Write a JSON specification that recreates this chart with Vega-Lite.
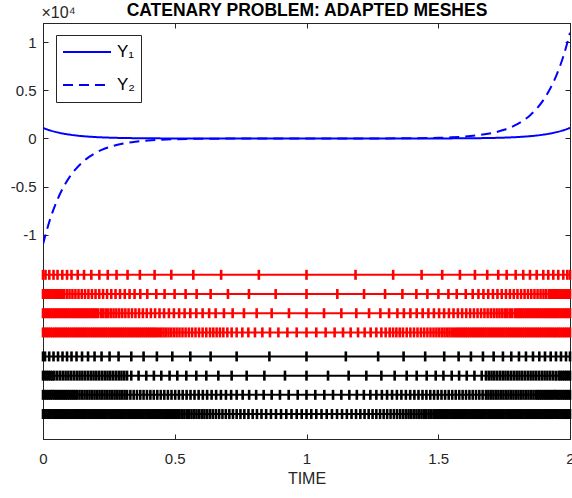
{
"$schema": "https://vega.github.io/schema/vega-lite/v6.json",
"width": 527,
"height": 416,
"autosize": {"type": "none"},
"padding": {"left": 43, "top": 23, "right": 2, "bottom": 59},
"background": "white",
"config": {
  "view": {"stroke": "#262626", "strokeWidth": 1},
  "font": "Liberation Sans",
  "axis": {"grid": false, "domainColor": "#262626", "tickColor": "#262626", "labelColor": "#262626", "titleColor": "#262626", "labelFont": "Liberation Sans", "titleFont": "Liberation Sans", "labelFontSize": 15, "tickSize": -5, "domainWidth": 1, "tickWidth": 1}
},
"datasets": {
"levels": [{"m":1,"lev":-14200,"g":"r"},{"m":2,"lev":-16200,"g":"r"},{"m":3,"lev":-18200,"g":"r"},{"m":4,"lev":-20200,"g":"r"},{"m":5,"lev":-22700,"g":"k"},{"m":6,"lev":-24700,"g":"k"},{"m":7,"lev":-26700,"g":"k"},{"m":8,"lev":-28700,"g":"k"}],
"mesh": [
{"m":1,"t":0},{"m":1,"t":0.0095},{"m":1,"t":0.0239},{"m":1,"t":0.0399},{"m":1,"t":0.0551},{"m":1,"t":0.0733},{"m":1,"t":0.0912},{"m":1,"t":0.1082},{"m":1,"t":0.1318},{"m":1,"t":0.1557},{"m":1,"t":0.1834},{"m":1,"t":0.2138},{"m":1,"t":0.2457},{"m":1,"t":0.2791},{"m":1,"t":0.3209},{"m":1,"t":0.3676},{"m":1,"t":0.4235},{"m":1,"t":0.4869},{"m":1,"t":0.5705},{"m":1,"t":0.676},{"m":1,"t":0.8192},{"m":1,"t":1},{"m":1,"t":1.1861},{"m":1,"t":1.3289},{"m":1,"t":1.4368},{"m":1,"t":1.515},{"m":1,"t":1.5822},{"m":1,"t":1.6392},{"m":1,"t":1.6859},{"m":1,"t":1.7277},{"m":1,"t":1.7596},{"m":1,"t":1.7938},{"m":1,"t":1.8226},{"m":1,"t":1.8481},{"m":1,"t":1.8735},{"m":1,"t":1.8986},{"m":1,"t":1.9176},{"m":1,"t":1.9366},{"m":1,"t":1.9556},{"m":1,"t":1.9746},{"m":1,"t":1.9897},{"m":1,"t":2},
{"m":2,"t":0},{"m":2,"t":0.0072},{"m":2,"t":0.0144},{"m":2,"t":0.0216},{"m":2,"t":0.0288},{"m":2,"t":0.036},{"m":2,"t":0.0432},{"m":2,"t":0.0504},{"m":2,"t":0.0576},{"m":2,"t":0.0648},{"m":2,"t":0.072},{"m":2,"t":0.0792},{"m":2,"t":0.09},{"m":2,"t":0.1006},{"m":2,"t":0.1117},{"m":2,"t":0.1231},{"m":2,"t":0.1348},{"m":2,"t":0.147},{"m":2,"t":0.1595},{"m":2,"t":0.1724},{"m":2,"t":0.1857},{"m":2,"t":0.1994},{"m":2,"t":0.2134},{"m":2,"t":0.2279},{"m":2,"t":0.2431},{"m":2,"t":0.259},{"m":2,"t":0.2753},{"m":2,"t":0.2924},{"m":2,"t":0.3103},{"m":2,"t":0.3285},{"m":2,"t":0.3475},{"m":2,"t":0.3692},{"m":2,"t":0.3957},{"m":2,"t":0.4299},{"m":2,"t":0.4614},{"m":2,"t":0.4994},{"m":2,"t":0.5412},{"m":2,"t":0.583},{"m":2,"t":0.6361},{"m":2,"t":0.7019},{"m":2,"t":0.7816},{"m":2,"t":0.883},{"m":2,"t":1},{"m":2,"t":1.117},{"m":2,"t":1.2184},{"m":2,"t":1.2981},{"m":2,"t":1.3639},{"m":2,"t":1.417},{"m":2,"t":1.4588},{"m":2,"t":1.5006},{"m":2,"t":1.5386},{"m":2,"t":1.5701},{"m":2,"t":1.6043},{"m":2,"t":1.6308},{"m":2,"t":1.6525},{"m":2,"t":1.6715},{"m":2,"t":1.6897},{"m":2,"t":1.7076},{"m":2,"t":1.7247},{"m":2,"t":1.741},{"m":2,"t":1.7569},{"m":2,"t":1.7721},{"m":2,"t":1.7866},{"m":2,"t":1.8006},{"m":2,"t":1.8143},{"m":2,"t":1.8276},{"m":2,"t":1.8405},{"m":2,"t":1.853},{"m":2,"t":1.8652},{"m":2,"t":1.8769},{"m":2,"t":1.8883},{"m":2,"t":1.8994},{"m":2,"t":1.91},{"m":2,"t":1.9208},{"m":2,"t":1.928},{"m":2,"t":1.9352},{"m":2,"t":1.9424},{"m":2,"t":1.9496},{"m":2,"t":1.9568},{"m":2,"t":1.964},{"m":2,"t":1.9712},{"m":2,"t":1.9784},{"m":2,"t":1.9856},{"m":2,"t":1.9928},{"m":2,"t":2},
{"m":3,"t":0},{"m":3,"t":0.0072},{"m":3,"t":0.0144},{"m":3,"t":0.0216},{"m":3,"t":0.0288},{"m":3,"t":0.036},{"m":3,"t":0.0432},{"m":3,"t":0.0504},{"m":3,"t":0.0576},{"m":3,"t":0.0648},{"m":3,"t":0.072},{"m":3,"t":0.0792},{"m":3,"t":0.0864},{"m":3,"t":0.0936},{"m":3,"t":0.1008},{"m":3,"t":0.108},{"m":3,"t":0.1152},{"m":3,"t":0.1224},{"m":3,"t":0.1296},{"m":3,"t":0.1368},{"m":3,"t":0.144},{"m":3,"t":0.1512},{"m":3,"t":0.1584},{"m":3,"t":0.1656},{"m":3,"t":0.1728},{"m":3,"t":0.18},{"m":3,"t":0.1872},{"m":3,"t":0.1944},{"m":3,"t":0.2016},{"m":3,"t":0.2088},{"m":3,"t":0.2195},{"m":3,"t":0.2286},{"m":3,"t":0.2381},{"m":3,"t":0.2476},{"m":3,"t":0.2575},{"m":3,"t":0.2678},{"m":3,"t":0.2784},{"m":3,"t":0.2894},{"m":3,"t":0.3008},{"m":3,"t":0.3126},{"m":3,"t":0.3247},{"m":3,"t":0.3376},{"m":3,"t":0.3509},{"m":3,"t":0.3646},{"m":3,"t":0.379},{"m":3,"t":0.3938},{"m":3,"t":0.4094},{"m":3,"t":0.4254},{"m":3,"t":0.4421},{"m":3,"t":0.4595},{"m":3,"t":0.4778},{"m":3,"t":0.4968},{"m":3,"t":0.5165},{"m":3,"t":0.5374},{"m":3,"t":0.5591},{"m":3,"t":0.5818},{"m":3,"t":0.6058},{"m":3,"t":0.6305},{"m":3,"t":0.6551},{"m":3,"t":0.6867},{"m":3,"t":0.7197},{"m":3,"t":0.7626},{"m":3,"t":0.8109},{"m":3,"t":0.8678},{"m":3,"t":0.9335},{"m":3,"t":1},{"m":3,"t":1.0665},{"m":3,"t":1.1322},{"m":3,"t":1.1891},{"m":3,"t":1.2374},{"m":3,"t":1.2803},{"m":3,"t":1.3133},{"m":3,"t":1.3449},{"m":3,"t":1.3695},{"m":3,"t":1.3942},{"m":3,"t":1.4182},{"m":3,"t":1.4409},{"m":3,"t":1.4626},{"m":3,"t":1.4835},{"m":3,"t":1.5032},{"m":3,"t":1.5222},{"m":3,"t":1.5405},{"m":3,"t":1.5579},{"m":3,"t":1.5746},{"m":3,"t":1.5906},{"m":3,"t":1.6062},{"m":3,"t":1.621},{"m":3,"t":1.6354},{"m":3,"t":1.6491},{"m":3,"t":1.6624},{"m":3,"t":1.6753},{"m":3,"t":1.6874},{"m":3,"t":1.6992},{"m":3,"t":1.7106},{"m":3,"t":1.7216},{"m":3,"t":1.7322},{"m":3,"t":1.7425},{"m":3,"t":1.7524},{"m":3,"t":1.7619},{"m":3,"t":1.7714},{"m":3,"t":1.7805},{"m":3,"t":1.7912},{"m":3,"t":1.7984},{"m":3,"t":1.8056},{"m":3,"t":1.8128},{"m":3,"t":1.82},{"m":3,"t":1.8272},{"m":3,"t":1.8344},{"m":3,"t":1.8416},{"m":3,"t":1.8488},{"m":3,"t":1.856},{"m":3,"t":1.8632},{"m":3,"t":1.8704},{"m":3,"t":1.8776},{"m":3,"t":1.8848},{"m":3,"t":1.892},{"m":3,"t":1.8992},{"m":3,"t":1.9064},{"m":3,"t":1.9136},{"m":3,"t":1.9208},{"m":3,"t":1.928},{"m":3,"t":1.9352},{"m":3,"t":1.9424},{"m":3,"t":1.9496},{"m":3,"t":1.9568},{"m":3,"t":1.964},{"m":3,"t":1.9712},{"m":3,"t":1.9784},{"m":3,"t":1.9856},{"m":3,"t":1.9928},{"m":3,"t":2},
{"m":4,"t":0},{"m":4,"t":0.0072},{"m":4,"t":0.0144},{"m":4,"t":0.0216},{"m":4,"t":0.0288},{"m":4,"t":0.036},{"m":4,"t":0.0432},{"m":4,"t":0.0504},{"m":4,"t":0.0576},{"m":4,"t":0.0648},{"m":4,"t":0.072},{"m":4,"t":0.0792},{"m":4,"t":0.0864},{"m":4,"t":0.0936},{"m":4,"t":0.1008},{"m":4,"t":0.108},{"m":4,"t":0.1152},{"m":4,"t":0.1224},{"m":4,"t":0.1296},{"m":4,"t":0.1368},{"m":4,"t":0.144},{"m":4,"t":0.1512},{"m":4,"t":0.1584},{"m":4,"t":0.1656},{"m":4,"t":0.1728},{"m":4,"t":0.18},{"m":4,"t":0.1872},{"m":4,"t":0.1944},{"m":4,"t":0.2016},{"m":4,"t":0.2088},{"m":4,"t":0.216},{"m":4,"t":0.2232},{"m":4,"t":0.2304},{"m":4,"t":0.2376},{"m":4,"t":0.2448},{"m":4,"t":0.252},{"m":4,"t":0.2592},{"m":4,"t":0.2664},{"m":4,"t":0.2736},{"m":4,"t":0.2808},{"m":4,"t":0.288},{"m":4,"t":0.2952},{"m":4,"t":0.3024},{"m":4,"t":0.3096},{"m":4,"t":0.3168},{"m":4,"t":0.324},{"m":4,"t":0.3312},{"m":4,"t":0.3384},{"m":4,"t":0.3456},{"m":4,"t":0.3528},{"m":4,"t":0.36},{"m":4,"t":0.3672},{"m":4,"t":0.3744},{"m":4,"t":0.3816},{"m":4,"t":0.3888},{"m":4,"t":0.396},{"m":4,"t":0.4032},{"m":4,"t":0.4104},{"m":4,"t":0.4176},{"m":4,"t":0.4248},{"m":4,"t":0.432},{"m":4,"t":0.4406},{"m":4,"t":0.4489},{"m":4,"t":0.4576},{"m":4,"t":0.4668},{"m":4,"t":0.4763},{"m":4,"t":0.4861},{"m":4,"t":0.4964},{"m":4,"t":0.507},{"m":4,"t":0.518},{"m":4,"t":0.5294},{"m":4,"t":0.5412},{"m":4,"t":0.5534},{"m":4,"t":0.5659},{"m":4,"t":0.5788},{"m":4,"t":0.5921},{"m":4,"t":0.6058},{"m":4,"t":0.6198},{"m":4,"t":0.6339},{"m":4,"t":0.6464},{"m":4,"t":0.6589},{"m":4,"t":0.6715},{"m":4,"t":0.6844},{"m":4,"t":0.6996},{"m":4,"t":0.7159},{"m":4,"t":0.7349},{"m":4,"t":0.7565},{"m":4,"t":0.7793},{"m":4,"t":0.8044},{"m":4,"t":0.8325},{"m":4,"t":0.8614},{"m":4,"t":0.8933},{"m":4,"t":0.9274},{"m":4,"t":0.9628},{"m":4,"t":1},{"m":4,"t":1.0372},{"m":4,"t":1.0726},{"m":4,"t":1.1067},{"m":4,"t":1.1386},{"m":4,"t":1.1675},{"m":4,"t":1.1956},{"m":4,"t":1.2207},{"m":4,"t":1.2435},{"m":4,"t":1.2651},{"m":4,"t":1.2841},{"m":4,"t":1.3004},{"m":4,"t":1.3156},{"m":4,"t":1.3285},{"m":4,"t":1.3411},{"m":4,"t":1.3536},{"m":4,"t":1.3661},{"m":4,"t":1.3802},{"m":4,"t":1.3942},{"m":4,"t":1.4079},{"m":4,"t":1.4212},{"m":4,"t":1.4341},{"m":4,"t":1.4466},{"m":4,"t":1.4588},{"m":4,"t":1.4706},{"m":4,"t":1.482},{"m":4,"t":1.493},{"m":4,"t":1.5036},{"m":4,"t":1.5139},{"m":4,"t":1.5237},{"m":4,"t":1.5332},{"m":4,"t":1.5424},{"m":4,"t":1.5511},{"m":4,"t":1.5594},{"m":4,"t":1.568},{"m":4,"t":1.5752},{"m":4,"t":1.5824},{"m":4,"t":1.5896},{"m":4,"t":1.5968},{"m":4,"t":1.604},{"m":4,"t":1.6112},{"m":4,"t":1.6184},{"m":4,"t":1.6256},{"m":4,"t":1.6328},{"m":4,"t":1.64},{"m":4,"t":1.6472},{"m":4,"t":1.6544},{"m":4,"t":1.6616},{"m":4,"t":1.6688},{"m":4,"t":1.676},{"m":4,"t":1.6832},{"m":4,"t":1.6904},{"m":4,"t":1.6976},{"m":4,"t":1.7048},{"m":4,"t":1.712},{"m":4,"t":1.7192},{"m":4,"t":1.7264},{"m":4,"t":1.7336},{"m":4,"t":1.7408},{"m":4,"t":1.748},{"m":4,"t":1.7552},{"m":4,"t":1.7624},{"m":4,"t":1.7696},{"m":4,"t":1.7768},{"m":4,"t":1.784},{"m":4,"t":1.7912},{"m":4,"t":1.7984},{"m":4,"t":1.8056},{"m":4,"t":1.8128},{"m":4,"t":1.82},{"m":4,"t":1.8272},{"m":4,"t":1.8344},{"m":4,"t":1.8416},{"m":4,"t":1.8488},{"m":4,"t":1.856},{"m":4,"t":1.8632},{"m":4,"t":1.8704},{"m":4,"t":1.8776},{"m":4,"t":1.8848},{"m":4,"t":1.892},{"m":4,"t":1.8992},{"m":4,"t":1.9064},{"m":4,"t":1.9136},{"m":4,"t":1.9208},{"m":4,"t":1.928},{"m":4,"t":1.9352},{"m":4,"t":1.9424},{"m":4,"t":1.9496},{"m":4,"t":1.9568},{"m":4,"t":1.964},{"m":4,"t":1.9712},{"m":4,"t":1.9784},{"m":4,"t":1.9856},{"m":4,"t":1.9928},{"m":4,"t":2},
{"m":5,"t":0},{"m":5,"t":0.0076},{"m":5,"t":0.0235},{"m":5,"t":0.0399},{"m":5,"t":0.057},{"m":5,"t":0.0741},{"m":5,"t":0.0912},{"m":5,"t":0.1082},{"m":5,"t":0.1272},{"m":5,"t":0.1481},{"m":5,"t":0.1709},{"m":5,"t":0.1956},{"m":5,"t":0.2222},{"m":5,"t":0.2526},{"m":5,"t":0.2867},{"m":5,"t":0.335},{"m":5,"t":0.3817},{"m":5,"t":0.4322},{"m":5,"t":0.4907},{"m":5,"t":0.5591},{"m":5,"t":0.6362},{"m":5,"t":0.7349},{"m":5,"t":0.8591},{"m":5,"t":1},{"m":5,"t":1.1493},{"m":5,"t":1.2719},{"m":5,"t":1.3684},{"m":5,"t":1.4504},{"m":5,"t":1.5226},{"m":5,"t":1.5773},{"m":5,"t":1.624},{"m":5,"t":1.6696},{"m":5,"t":1.7102},{"m":5,"t":1.7455},{"m":5,"t":1.7771},{"m":5,"t":1.8063},{"m":5,"t":1.8329},{"m":5,"t":1.8595},{"m":5,"t":1.8834},{"m":5,"t":1.9051},{"m":5,"t":1.9267},{"m":5,"t":1.9468},{"m":5,"t":1.9658},{"m":5,"t":1.9848},{"m":5,"t":2},
{"m":6,"t":0},{"m":6,"t":0.0072},{"m":6,"t":0.0144},{"m":6,"t":0.0216},{"m":6,"t":0.0288},{"m":6,"t":0.036},{"m":6,"t":0.0432},{"m":6,"t":0.054},{"m":6,"t":0.0646},{"m":6,"t":0.0752},{"m":6,"t":0.0858},{"m":6,"t":0.0964},{"m":6,"t":0.107},{"m":6,"t":0.1176},{"m":6,"t":0.1282},{"m":6,"t":0.1388},{"m":6,"t":0.1494},{"m":6,"t":0.16},{"m":6,"t":0.1706},{"m":6,"t":0.1812},{"m":6,"t":0.1918},{"m":6,"t":0.2024},{"m":6,"t":0.213},{"m":6,"t":0.2236},{"m":6,"t":0.2342},{"m":6,"t":0.2448},{"m":6,"t":0.2554},{"m":6,"t":0.266},{"m":6,"t":0.2766},{"m":6,"t":0.2872},{"m":6,"t":0.2978},{"m":6,"t":0.3084},{"m":6,"t":0.319},{"m":6,"t":0.335},{"m":6,"t":0.3627},{"m":6,"t":0.3919},{"m":6,"t":0.4208},{"m":6,"t":0.4489},{"m":6,"t":0.4804},{"m":6,"t":0.5097},{"m":6,"t":0.5439},{"m":6,"t":0.5818},{"m":6,"t":0.6198},{"m":6,"t":0.6654},{"m":6,"t":0.7159},{"m":6,"t":0.7729},{"m":6,"t":0.8401},{"m":6,"t":0.9183},{"m":6,"t":1},{"m":6,"t":1.0817},{"m":6,"t":1.1599},{"m":6,"t":1.2271},{"m":6,"t":1.2841},{"m":6,"t":1.3346},{"m":6,"t":1.3802},{"m":6,"t":1.4182},{"m":6,"t":1.4561},{"m":6,"t":1.4903},{"m":6,"t":1.5196},{"m":6,"t":1.5511},{"m":6,"t":1.5792},{"m":6,"t":1.6081},{"m":6,"t":1.6373},{"m":6,"t":1.665},{"m":6,"t":1.681},{"m":6,"t":1.6916},{"m":6,"t":1.7022},{"m":6,"t":1.7128},{"m":6,"t":1.7234},{"m":6,"t":1.734},{"m":6,"t":1.7446},{"m":6,"t":1.7552},{"m":6,"t":1.7658},{"m":6,"t":1.7764},{"m":6,"t":1.787},{"m":6,"t":1.7976},{"m":6,"t":1.8082},{"m":6,"t":1.8188},{"m":6,"t":1.8294},{"m":6,"t":1.84},{"m":6,"t":1.8506},{"m":6,"t":1.8612},{"m":6,"t":1.8718},{"m":6,"t":1.8824},{"m":6,"t":1.893},{"m":6,"t":1.9036},{"m":6,"t":1.9142},{"m":6,"t":1.9248},{"m":6,"t":1.9354},{"m":6,"t":1.946},{"m":6,"t":1.9568},{"m":6,"t":1.964},{"m":6,"t":1.9712},{"m":6,"t":1.9784},{"m":6,"t":1.9856},{"m":6,"t":1.9928},{"m":6,"t":2},
{"m":7,"t":0},{"m":7,"t":0.0072},{"m":7,"t":0.0144},{"m":7,"t":0.0216},{"m":7,"t":0.0288},{"m":7,"t":0.036},{"m":7,"t":0.0432},{"m":7,"t":0.0504},{"m":7,"t":0.0576},{"m":7,"t":0.0648},{"m":7,"t":0.072},{"m":7,"t":0.0792},{"m":7,"t":0.0864},{"m":7,"t":0.0936},{"m":7,"t":0.1008},{"m":7,"t":0.108},{"m":7,"t":0.1152},{"m":7,"t":0.1224},{"m":7,"t":0.1296},{"m":7,"t":0.1386},{"m":7,"t":0.1481},{"m":7,"t":0.1576},{"m":7,"t":0.1671},{"m":7,"t":0.1766},{"m":7,"t":0.1861},{"m":7,"t":0.1956},{"m":7,"t":0.2051},{"m":7,"t":0.2146},{"m":7,"t":0.2241},{"m":7,"t":0.2336},{"m":7,"t":0.2431},{"m":7,"t":0.2526},{"m":7,"t":0.2621},{"m":7,"t":0.2716},{"m":7,"t":0.2811},{"m":7,"t":0.2906},{"m":7,"t":0.3001},{"m":7,"t":0.3096},{"m":7,"t":0.3191},{"m":7,"t":0.3316},{"m":7,"t":0.3441},{"m":7,"t":0.3566},{"m":7,"t":0.3692},{"m":7,"t":0.3817},{"m":7,"t":0.3946},{"m":7,"t":0.4075},{"m":7,"t":0.4204},{"m":7,"t":0.4337},{"m":7,"t":0.447},{"m":7,"t":0.4603},{"m":7,"t":0.474},{"m":7,"t":0.4877},{"m":7,"t":0.5017},{"m":7,"t":0.5158},{"m":7,"t":0.5302},{"m":7,"t":0.545},{"m":7,"t":0.5598},{"m":7,"t":0.575},{"m":7,"t":0.5906},{"m":7,"t":0.6065},{"m":7,"t":0.6229},{"m":7,"t":0.6399},{"m":7,"t":0.657},{"m":7,"t":0.6753},{"m":7,"t":0.6943},{"m":7,"t":0.714},{"m":7,"t":0.7349},{"m":7,"t":0.7577},{"m":7,"t":0.7824},{"m":7,"t":0.809},{"m":7,"t":0.8374},{"m":7,"t":0.8678},{"m":7,"t":0.8993},{"m":7,"t":0.9324},{"m":7,"t":0.9666},{"m":7,"t":1},{"m":7,"t":1.0334},{"m":7,"t":1.0676},{"m":7,"t":1.1007},{"m":7,"t":1.1322},{"m":7,"t":1.1626},{"m":7,"t":1.191},{"m":7,"t":1.2176},{"m":7,"t":1.2423},{"m":7,"t":1.2651},{"m":7,"t":1.286},{"m":7,"t":1.3057},{"m":7,"t":1.3247},{"m":7,"t":1.343},{"m":7,"t":1.3601},{"m":7,"t":1.3771},{"m":7,"t":1.3935},{"m":7,"t":1.4094},{"m":7,"t":1.425},{"m":7,"t":1.4402},{"m":7,"t":1.455},{"m":7,"t":1.4698},{"m":7,"t":1.4842},{"m":7,"t":1.4983},{"m":7,"t":1.5123},{"m":7,"t":1.526},{"m":7,"t":1.5397},{"m":7,"t":1.553},{"m":7,"t":1.5663},{"m":7,"t":1.5796},{"m":7,"t":1.5925},{"m":7,"t":1.6054},{"m":7,"t":1.6183},{"m":7,"t":1.6308},{"m":7,"t":1.6434},{"m":7,"t":1.6559},{"m":7,"t":1.6684},{"m":7,"t":1.6809},{"m":7,"t":1.6904},{"m":7,"t":1.6999},{"m":7,"t":1.7094},{"m":7,"t":1.7189},{"m":7,"t":1.7284},{"m":7,"t":1.7379},{"m":7,"t":1.7474},{"m":7,"t":1.7569},{"m":7,"t":1.7664},{"m":7,"t":1.7759},{"m":7,"t":1.7854},{"m":7,"t":1.7949},{"m":7,"t":1.8044},{"m":7,"t":1.8139},{"m":7,"t":1.8234},{"m":7,"t":1.8329},{"m":7,"t":1.8424},{"m":7,"t":1.8519},{"m":7,"t":1.8614},{"m":7,"t":1.8704},{"m":7,"t":1.8776},{"m":7,"t":1.8848},{"m":7,"t":1.892},{"m":7,"t":1.8992},{"m":7,"t":1.9064},{"m":7,"t":1.9136},{"m":7,"t":1.9208},{"m":7,"t":1.928},{"m":7,"t":1.9352},{"m":7,"t":1.9424},{"m":7,"t":1.9496},{"m":7,"t":1.9568},{"m":7,"t":1.964},{"m":7,"t":1.9712},{"m":7,"t":1.9784},{"m":7,"t":1.9856},{"m":7,"t":1.9928},{"m":7,"t":2},
{"m":8,"t":0},{"m":8,"t":0.0072},{"m":8,"t":0.0144},{"m":8,"t":0.0216},{"m":8,"t":0.0288},{"m":8,"t":0.036},{"m":8,"t":0.0432},{"m":8,"t":0.0504},{"m":8,"t":0.0576},{"m":8,"t":0.0648},{"m":8,"t":0.072},{"m":8,"t":0.0792},{"m":8,"t":0.0864},{"m":8,"t":0.0936},{"m":8,"t":0.1008},{"m":8,"t":0.108},{"m":8,"t":0.1152},{"m":8,"t":0.1224},{"m":8,"t":0.1296},{"m":8,"t":0.1368},{"m":8,"t":0.144},{"m":8,"t":0.1512},{"m":8,"t":0.1584},{"m":8,"t":0.1656},{"m":8,"t":0.1728},{"m":8,"t":0.18},{"m":8,"t":0.1872},{"m":8,"t":0.1944},{"m":8,"t":0.2016},{"m":8,"t":0.2088},{"m":8,"t":0.216},{"m":8,"t":0.2232},{"m":8,"t":0.2304},{"m":8,"t":0.2376},{"m":8,"t":0.2448},{"m":8,"t":0.252},{"m":8,"t":0.2592},{"m":8,"t":0.2664},{"m":8,"t":0.2736},{"m":8,"t":0.2808},{"m":8,"t":0.288},{"m":8,"t":0.2952},{"m":8,"t":0.3024},{"m":8,"t":0.3096},{"m":8,"t":0.3168},{"m":8,"t":0.324},{"m":8,"t":0.3312},{"m":8,"t":0.3384},{"m":8,"t":0.3456},{"m":8,"t":0.3528},{"m":8,"t":0.36},{"m":8,"t":0.3672},{"m":8,"t":0.3744},{"m":8,"t":0.3816},{"m":8,"t":0.3888},{"m":8,"t":0.396},{"m":8,"t":0.4032},{"m":8,"t":0.4104},{"m":8,"t":0.4176},{"m":8,"t":0.4248},{"m":8,"t":0.432},{"m":8,"t":0.4392},{"m":8,"t":0.4464},{"m":8,"t":0.4536},{"m":8,"t":0.4608},{"m":8,"t":0.468},{"m":8,"t":0.4752},{"m":8,"t":0.4824},{"m":8,"t":0.4896},{"m":8,"t":0.4968},{"m":8,"t":0.504},{"m":8,"t":0.5112},{"m":8,"t":0.5184},{"m":8,"t":0.5279},{"m":8,"t":0.5366},{"m":8,"t":0.5454},{"m":8,"t":0.5545},{"m":8,"t":0.5636},{"m":8,"t":0.5731},{"m":8,"t":0.5826},{"m":8,"t":0.5925},{"m":8,"t":0.6024},{"m":8,"t":0.6126},{"m":8,"t":0.6229},{"m":8,"t":0.6335},{"m":8,"t":0.6445},{"m":8,"t":0.6563},{"m":8,"t":0.6684},{"m":8,"t":0.681},{"m":8,"t":0.6939},{"m":8,"t":0.7072},{"m":8,"t":0.7208},{"m":8,"t":0.7349},{"m":8,"t":0.7493},{"m":8,"t":0.7641},{"m":8,"t":0.7797},{"m":8,"t":0.7957},{"m":8,"t":0.812},{"m":8,"t":0.8291},{"m":8,"t":0.8469},{"m":8,"t":0.8652},{"m":8,"t":0.8842},{"m":8,"t":0.9035},{"m":8,"t":0.9233},{"m":8,"t":0.943},{"m":8,"t":0.9628},{"m":8,"t":0.9817},{"m":8,"t":1},{"m":8,"t":1.0183},{"m":8,"t":1.0372},{"m":8,"t":1.057},{"m":8,"t":1.0767},{"m":8,"t":1.0965},{"m":8,"t":1.1158},{"m":8,"t":1.1348},{"m":8,"t":1.1531},{"m":8,"t":1.1709},{"m":8,"t":1.188},{"m":8,"t":1.2043},{"m":8,"t":1.2203},{"m":8,"t":1.2359},{"m":8,"t":1.2507},{"m":8,"t":1.2651},{"m":8,"t":1.2792},{"m":8,"t":1.2928},{"m":8,"t":1.3061},{"m":8,"t":1.319},{"m":8,"t":1.3316},{"m":8,"t":1.3437},{"m":8,"t":1.3555},{"m":8,"t":1.3665},{"m":8,"t":1.3771},{"m":8,"t":1.3874},{"m":8,"t":1.3976},{"m":8,"t":1.4075},{"m":8,"t":1.4174},{"m":8,"t":1.4269},{"m":8,"t":1.4364},{"m":8,"t":1.4455},{"m":8,"t":1.4546},{"m":8,"t":1.4634},{"m":8,"t":1.4721},{"m":8,"t":1.4816},{"m":8,"t":1.4888},{"m":8,"t":1.496},{"m":8,"t":1.5032},{"m":8,"t":1.5104},{"m":8,"t":1.5176},{"m":8,"t":1.5248},{"m":8,"t":1.532},{"m":8,"t":1.5392},{"m":8,"t":1.5464},{"m":8,"t":1.5536},{"m":8,"t":1.5608},{"m":8,"t":1.568},{"m":8,"t":1.5752},{"m":8,"t":1.5824},{"m":8,"t":1.5896},{"m":8,"t":1.5968},{"m":8,"t":1.604},{"m":8,"t":1.6112},{"m":8,"t":1.6184},{"m":8,"t":1.6256},{"m":8,"t":1.6328},{"m":8,"t":1.64},{"m":8,"t":1.6472},{"m":8,"t":1.6544},{"m":8,"t":1.6616},{"m":8,"t":1.6688},{"m":8,"t":1.676},{"m":8,"t":1.6832},{"m":8,"t":1.6904},{"m":8,"t":1.6976},{"m":8,"t":1.7048},{"m":8,"t":1.712},{"m":8,"t":1.7192},{"m":8,"t":1.7264},{"m":8,"t":1.7336},{"m":8,"t":1.7408},{"m":8,"t":1.748},{"m":8,"t":1.7552},{"m":8,"t":1.7624},{"m":8,"t":1.7696},{"m":8,"t":1.7768},{"m":8,"t":1.784},{"m":8,"t":1.7912},{"m":8,"t":1.7984},{"m":8,"t":1.8056},{"m":8,"t":1.8128},{"m":8,"t":1.82},{"m":8,"t":1.8272},{"m":8,"t":1.8344},{"m":8,"t":1.8416},{"m":8,"t":1.8488},{"m":8,"t":1.856},{"m":8,"t":1.8632},{"m":8,"t":1.8704},{"m":8,"t":1.8776},{"m":8,"t":1.8848},{"m":8,"t":1.892},{"m":8,"t":1.8992},{"m":8,"t":1.9064},{"m":8,"t":1.9136},{"m":8,"t":1.9208},{"m":8,"t":1.928},{"m":8,"t":1.9352},{"m":8,"t":1.9424},{"m":8,"t":1.9496},{"m":8,"t":1.9568},{"m":8,"t":1.964},{"m":8,"t":1.9712},{"m":8,"t":1.9784},{"m":8,"t":1.9856},{"m":8,"t":1.9928},{"m":8,"t":2}
]
},
"layer": [
{
  "data": {"values": [
{"s":"Y₁","t":0,"v":1101.3},{"s":"Y₁","t":0.025,"v":857.7},{"s":"Y₁","t":0.05,"v":668.0},{"s":"Y₁","t":0.075,"v":520.2},{"s":"Y₁","t":0.1,"v":405.2},{"s":"Y₁","t":0.125,"v":315.5},{"s":"Y₁","t":0.15,"v":245.7},{"s":"Y₁","t":0.175,"v":191.4},{"s":"Y₁","t":0.2,"v":149.0},{"s":"Y₁","t":0.225,"v":116.1},{"s":"Y₁","t":0.25,"v":90.4},{"s":"Y₁","t":0.3,"v":54.8},{"s":"Y₁","t":0.35,"v":33.3},{"s":"Y₁","t":0.4,"v":20.2},{"s":"Y₁","t":0.45,"v":12.2},{"s":"Y₁","t":0.5,"v":7.4},{"s":"Y₁","t":0.6,"v":2.7},{"s":"Y₁","t":0.7,"v":1.0},{"s":"Y₁","t":0.8,"v":0.4},{"s":"Y₁","t":0.9,"v":0.15},{"s":"Y₁","t":1,"v":0.1},{"s":"Y₁","t":1.1,"v":0.15},{"s":"Y₁","t":1.2,"v":0.4},{"s":"Y₁","t":1.3,"v":1.0},{"s":"Y₁","t":1.4,"v":2.7},{"s":"Y₁","t":1.5,"v":7.4},{"s":"Y₁","t":1.55,"v":12.2},{"s":"Y₁","t":1.6,"v":20.2},{"s":"Y₁","t":1.65,"v":33.3},{"s":"Y₁","t":1.7,"v":54.8},{"s":"Y₁","t":1.75,"v":90.4},{"s":"Y₁","t":1.775,"v":116.1},{"s":"Y₁","t":1.8,"v":149.0},{"s":"Y₁","t":1.825,"v":191.4},{"s":"Y₁","t":1.85,"v":245.7},{"s":"Y₁","t":1.875,"v":315.5},{"s":"Y₁","t":1.9,"v":405.2},{"s":"Y₁","t":1.925,"v":520.2},{"s":"Y₁","t":1.95,"v":668.0},{"s":"Y₁","t":1.975,"v":857.7},{"s":"Y₁","t":2,"v":1101.3},
{"s":"Y₂","t":0,"v":-11013.2},{"s":"Y₂","t":0.025,"v":-8577.1},{"s":"Y₂","t":0.05,"v":-6679.9},{"s":"Y₂","t":0.075,"v":-5202.3},{"s":"Y₂","t":0.1,"v":-4051.5},{"s":"Y₂","t":0.125,"v":-3155.3},{"s":"Y₂","t":0.15,"v":-2457.4},{"s":"Y₂","t":0.175,"v":-1913.8},{"s":"Y₂","t":0.2,"v":-1490.5},{"s":"Y₂","t":0.225,"v":-1160.8},{"s":"Y₂","t":0.25,"v":-904.0},{"s":"Y₂","t":0.3,"v":-548.3},{"s":"Y₂","t":0.35,"v":-332.6},{"s":"Y₂","t":0.4,"v":-201.7},{"s":"Y₂","t":0.45,"v":-122.3},{"s":"Y₂","t":0.5,"v":-74.2},{"s":"Y₂","t":0.6,"v":-27.3},{"s":"Y₂","t":0.7,"v":-10.0},{"s":"Y₂","t":0.8,"v":-3.6},{"s":"Y₂","t":0.9,"v":-1.2},{"s":"Y₂","t":1,"v":0},{"s":"Y₂","t":1.1,"v":1.2},{"s":"Y₂","t":1.2,"v":3.6},{"s":"Y₂","t":1.3,"v":10.0},{"s":"Y₂","t":1.4,"v":27.3},{"s":"Y₂","t":1.5,"v":74.2},{"s":"Y₂","t":1.55,"v":122.3},{"s":"Y₂","t":1.6,"v":201.7},{"s":"Y₂","t":1.65,"v":332.6},{"s":"Y₂","t":1.7,"v":548.3},{"s":"Y₂","t":1.75,"v":904.0},{"s":"Y₂","t":1.775,"v":1160.8},{"s":"Y₂","t":1.8,"v":1490.5},{"s":"Y₂","t":1.825,"v":1913.8},{"s":"Y₂","t":1.85,"v":2457.4},{"s":"Y₂","t":1.875,"v":3155.3},{"s":"Y₂","t":1.9,"v":4051.5},{"s":"Y₂","t":1.925,"v":5202.3},{"s":"Y₂","t":1.95,"v":6679.9},{"s":"Y₂","t":1.975,"v":8577.1},{"s":"Y₂","t":2,"v":11013.2}
  ]},
  "mark": {"type": "line", "strokeWidth": 2, "color": "#0000ff", "interpolate": "monotone", "clip": true},
  "encoding": {
    "x": {"field": "t", "type": "quantitative", "scale": {"domain": [0, 2], "nice": false, "zero": false},
      "axis": {"values": [0, 0.5, 1, 1.5, 2], "labelExpr": "'' + datum.value", "title": "TIME", "titleFontSize": 16, "titleFontWeight": "normal", "labelFlush": false, "labelPadding": 17, "titlePadding": 4}},
    "y": {"field": "v", "type": "quantitative", "scale": {"domain": [-31300, 12030], "nice": false, "zero": false},
      "axis": {"values": [-10000, -5000, 0, 5000, 10000], "labelExpr": "'' + datum.value / 10000", "labelPadding": 12, "title": "×10⁴", "titleAngle": 0, "titleAlign": "left", "titleBaseline": "alphabetic", "titleX": -2, "titleY": -6, "titleFontSize": 16, "titleFontWeight": "normal"}},
    "strokeDash": {"field": "s", "type": "nominal", "scale": {"domain": ["Y₁", "Y₂"], "range": [[1, 0], [10, 6]]},
      "legend": {"orient": "none", "legendX": 13, "legendY": 12, "title": null, "symbolType": "stroke", "symbolSize": 2304, "symbolStrokeWidth": 2, "symbolStrokeColor": "#0000ff", "labelFontSize": 17, "labelFont": "Liberation Sans", "labelColor": "#000000", "padding": 6, "clipHeight": 22, "rowPadding": 11, "strokeColor": "#262626", "fillColor": "white", "labelOffset": 5}}
  }
},
{
  "data": {"name": "mesh"},
  "transform": [{"lookup": "m", "from": {"data": {"name": "levels"}, "key": "m", "fields": ["lev", "g"]}}],
  "mark": {"type": "line", "strokeWidth": 2},
  "encoding": {
    "x": {"field": "t", "type": "quantitative", "axis": {"orient": "top", "values": [0, 0.5, 1, 1.5, 2], "labels": false, "title": "CATENARY PROBLEM: ADAPTED MESHES", "titleFontSize": 17.5, "titleFontWeight": "bold", "titleColor": "#000000", "titlePadding": 3}},
    "y": {"field": "lev", "type": "quantitative", "axis": {"orient": "right", "values": [-10000, -5000, 0, 5000, 10000], "labels": false, "title": null}},
    "detail": {"field": "m", "type": "nominal"},
    "color": {"field": "g", "type": "nominal", "scale": {"domain": ["r", "k"], "range": ["#ff0000", "#000000"]}, "legend": null}
  }
},
{
  "data": {"name": "mesh"},
  "transform": [{"lookup": "m", "from": {"data": {"name": "levels"}, "key": "m", "fields": ["lev", "g"]}}],
  "mark": {"type": "tick", "orient": "vertical", "thickness": 2.6, "size": 10, "opacity": 1},
  "encoding": {
    "x": {"field": "t", "type": "quantitative", "axis": null},
    "y": {"field": "lev", "type": "quantitative", "axis": null},
    "color": {"field": "g", "type": "nominal", "scale": {"domain": ["r", "k"], "range": ["#ff0000", "#000000"]}, "legend": null}
  }
}
],
"resolve": {"axis": {"x": "independent", "y": "independent"}}
}
